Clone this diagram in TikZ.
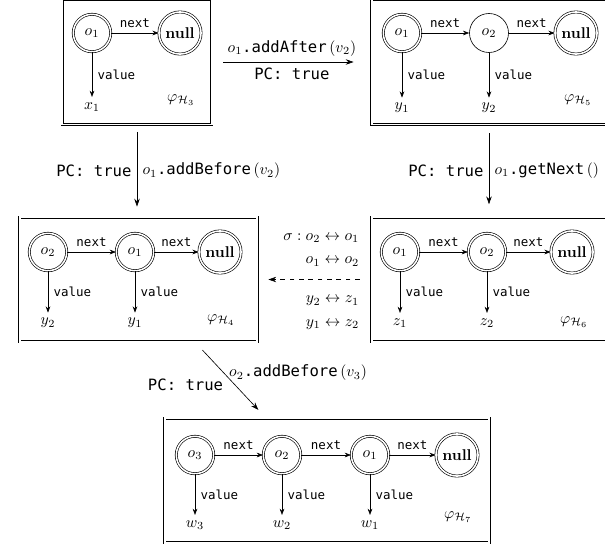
\documentclass[tikz,border=0pt]{standalone}
\usepackage{amsmath}
\usepackage{fontspec}
\setsansfont{DejaVu Sans}
\setmonofont{DejaVu Sans Mono}
\usetikzlibrary{arrows.meta}

\tikzset{
  heap/.style={draw, line width=0.5pt, double, double distance=1pt, rectangle, minimum height=80pt},
  obj/.style={circle, draw, double, double distance=1pt, minimum size=24pt, inner sep=1pt},
  newobj/.style={circle, draw, minimum size=25pt, inner sep=1pt},
  nullobj/.style={obj, minimum size=27pt, font=\bfseries},
  fld/.style={-{Stealth[length=4pt,width=3pt]}},
  lbl/.style={font=\ttfamily\footnotesize},
  trans/.style={-{Stealth[length=5pt,width=3.5pt]}}
}

\begin{document}
\begin{tikzpicture}[x=0.641pt, y=-0.641pt]
  \useasboundingbox (0,0) rectangle (605,550);

  % heap H3
  \node[heap, minimum width=96pt] (h3) at (137,62) {};
  \node[obj] (h3o1) at (92,33) {$o_1$};
  \node[nullobj] (h3null) at (180,33) {null};
  \node (h3x1) at (92,107) {$x_1$};
  \node (h3phi) at (181,100) {$\varphi_{\mathcal{H}_3}$};
  \draw[fld] (h3o1) -- node[lbl,above]{next} (h3null);
  \draw[fld] (h3o1) -- node[lbl,right]{value} (h3x1);

  % heap H5
  \node[heap, minimum width=154pt] (h5) at (492,62) {};
  \node[obj] (h5o1) at (402,33) {$o_1$};
  \node[newobj] (h5o2) at (489,33) {$o_2$};
  \node[nullobj] (h5null) at (576,33) {null};
  \node (h5y1) at (402,108) {$y_1$};
  \node (h5y2) at (489,108) {$y_2$};
  \node (h5phi) at (578,100) {$\varphi_{\mathcal{H}_5}$};
  \draw[fld] (h5o1) -- node[lbl,above]{next} (h5o2);
  \draw[fld] (h5o2) -- node[lbl,above]{next} (h5null);
  \draw[fld] (h5o1) -- node[lbl,right]{value} (h5y1);
  \draw[fld] (h5o2) -- node[lbl,right]{value} (h5y2);

  % heap H4
  \node[heap, minimum width=152pt] (h4) at (138.5,279.5) {};
  \node[obj] (h4o2) at (48,252) {$o_2$};
  \node[obj] (h4o1) at (135,252) {$o_1$};
  \node[nullobj] (h4null) at (220,252) {null};
  \node (h4y2) at (48,323) {$y_2$};
  \node (h4y1) at (135,323) {$y_1$};
  \node (h4phi) at (221,320) {$\varphi_{\mathcal{H}_4}$};
  \draw[fld] (h4o2) -- node[lbl,above]{next} (h4o1);
  \draw[fld] (h4o1) -- node[lbl,above]{next} (h4null);
  \draw[fld] (h4o2) -- node[lbl,right]{value} (h4y2);
  \draw[fld] (h4o1) -- node[lbl,right]{value} (h4y1);

  % heap H6
  \node[heap, minimum width=154pt] (h6) at (492,279.5) {};
  \node[obj] (h6o1) at (400,252) {$o_1$};
  \node[obj] (h6o2) at (487,252) {$o_2$};
  \node[nullobj] (h6null) at (572,252) {null};
  \node (h6z1) at (400,323) {$z_1$};
  \node (h6z2) at (487,323) {$z_2$};
  \node (h6phi) at (574,322) {$\varphi_{\mathcal{H}_6}$};
  \draw[fld] (h6o1) -- node[lbl,above]{next} (h6o2);
  \draw[fld] (h6o2) -- node[lbl,above]{next} (h6null);
  \draw[fld] (h6o1) -- node[lbl,right]{value} (h6z1);
  \draw[fld] (h6o2) -- node[lbl,right]{value} (h6z2);

  % heap H7
  \node[heap, minimum width=208pt] (h7) at (327,480.5) {};
  \node[obj] (h7o3) at (195,455) {$o_3$};
  \node[obj] (h7o2) at (282,455) {$o_2$};
  \node[obj] (h7o1) at (370,455) {$o_1$};
  \node[nullobj] (h7null) at (457,455) {null};
  \node (h7w3) at (195,525) {$w_3$};
  \node (h7w2) at (282,525) {$w_2$};
  \node (h7w1) at (370,525) {$w_1$};
  \node (h7phi) at (458,517) {$\varphi_{\mathcal{H}_7}$};
  \draw[fld] (h7o3) -- node[lbl,above]{next} (h7o2);
  \draw[fld] (h7o2) -- node[lbl,above]{next} (h7o1);
  \draw[fld] (h7o1) -- node[lbl,above]{next} (h7null);
  \draw[fld] (h7o3) -- node[lbl,right]{value} (h7w3);
  \draw[fld] (h7o2) -- node[lbl,right]{value} (h7w2);
  \draw[fld] (h7o1) -- node[lbl,right]{value} (h7w1);

  % transitions
  \draw[trans, shorten <=7pt, shorten >=11.5pt] (h3) --
    node[above]{$o_1$\texttt{.addAfter}\,$(v_2)$}
    node[below]{\texttt{PC: true}} (h5);
  \draw[trans, shorten <=4.5pt, shorten >=6.5pt] (h3.south) --
    node[left]{\texttt{PC: true}}
    node[right]{$o_1$\texttt{.addBefore}\,$(v_2)$} (h3.south |- h4.north);
  \draw[trans, shorten <=5.5pt, shorten >=8pt] (h5o2 |- h5.south) --
    node[left]{\texttt{PC: true}}
    node[right]{$o_1$\texttt{.getNext}\,$()$} (h5o2 |- h6.north);
  \draw[trans, dashed, shorten <=7.5pt, shorten >=7pt] (h6) --
    node[pos=0.06, anchor=south east, yshift=3pt]
      {$\begin{aligned}\sigma : o_2 &\leftrightarrow o_1\\ o_1 &\leftrightarrow o_2\end{aligned}$}
    node[pos=0.06, anchor=north east, yshift=-3pt]
      {$\begin{aligned}y_2 &\leftrightarrow z_1\\ y_1 &\leftrightarrow z_2\end{aligned}$} (h4);
  \draw[trans] ([xshift=41pt,yshift=-5pt]h4.south) --
    node[pos=0.38, anchor=west]{$o_2$\texttt{.addBefore}\,$(v_3)$}
    node[pos=0.58, anchor=east, xshift=-4pt]{\texttt{PC: true}}
    ([xshift=-44pt,yshift=5pt]h7.north);
\end{tikzpicture}
\end{document}
